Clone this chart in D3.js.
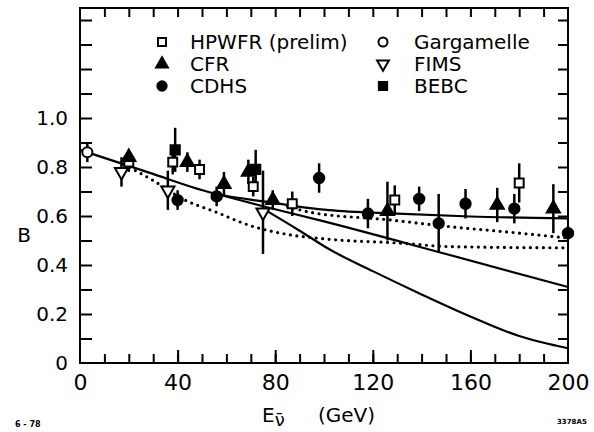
<!DOCTYPE html>
<html>
<head>
<meta charset="utf-8">
<script src="https://cdn.jsdelivr.net/npm/d3@7"></script>
<style>
  body { margin: 0; background: #fff; }
  svg { font-family: "DejaVu Sans", sans-serif; }
</style>
</head>
<body>
<div id="chart"></div>
<script>
const FRAME_WIDTH = 594;
const FRAME_HEIGHT = 432;
const MARGINS = {left: 80, right: 26, top: 8, bottom: 69};
const VIS_WIDTH = FRAME_WIDTH - MARGINS.left - MARGINS.right;
const VIS_HEIGHT = FRAME_HEIGHT - MARGINS.top - MARGINS.bottom;

// data (E in GeV, B)
const gargE = [3];
const gargB = [0.86];
const gargErr = [0.04];

const hpwfrE = [20, 38, 49, 71, 87, 129, 180];
const hpwfrB = [0.82, 0.82, 0.79, 0.72, 0.65, 0.665, 0.735];
const hpwfrErr = [0.04, 0.05, 0.04, 0.04, 0.05, 0.06, 0.08];

const cfrE = [20, 44, 59, 69, 79, 126, 171, 194];
const cfrB = [0.84, 0.82, 0.73, 0.78, 0.665, 0.62, 0.645, 0.63];
const cfrErr = [0.03, 0.04, 0.05, 0.05, 0.04, 0.12, 0.07, 0.1];

const cdhsE = [40, 56, 98, 118, 139, 147, 158, 178, 200];
const cdhsB = [0.665, 0.68, 0.755, 0.61, 0.67, 0.57, 0.65, 0.63, 0.53];
const cdhsErr = [0.04, 0.04, 0.06, 0.06, 0.05, 0.12, 0.06, 0.06, 0.03];

const fimsE = [17, 36, 75];
const fimsB = [0.78, 0.705, 0.615];
const fimsErr = [0.06, 0.08, 0.17];

const bebcE = [39, 72];
const bebcB = [0.87, 0.79];
const bebcErr = [0.09, 0.08];

// theory curves
const solidAE = [0, 28, 56, 75, 102, 130, 160, 200];
const solidAB = [0.87, 0.778, 0.69, 0.66, 0.624, 0.61, 0.598, 0.59];
const solidBE = [56, 75, 100, 150, 200];
const solidBB = [0.69, 0.64, 0.578, 0.445, 0.31];
const solidCE = [75, 90, 102, 120, 140, 160, 180, 200];
const solidCB = [0.63, 0.54, 0.465, 0.375, 0.28, 0.19, 0.11, 0.06];
const dotAE = [18, 30, 42, 56, 70, 85, 102, 130, 152, 200];
const dotAB = [0.81, 0.745, 0.67, 0.615, 0.56, 0.525, 0.505, 0.49, 0.475, 0.47];
const dotBE = [85, 94, 127, 152, 175, 200];
const dotBB = [0.64, 0.616, 0.584, 0.556, 0.535, 0.51];

const xTicks = [0, 40, 80, 120, 160, 200];
const yTicks = [0, 0.2, 0.4, 0.6, 0.8, 1.0];
const yTickLabels = ["0", "0.2", "0.4", "0.6", "0.8", "1.0"];

const SVG = d3.select("#chart")
  .append("svg")
    .attr("width", FRAME_WIDTH)
    .attr("height", FRAME_HEIGHT);

const X_SCALE = d3.scaleLinear().domain([0, 200]).range([MARGINS.left, MARGINS.left + VIS_WIDTH]);
const Y_SCALE = d3.scaleLinear().domain([0, 1.449]).range([MARGINS.top + VIS_HEIGHT, MARGINS.top]);

// frame
SVG.append("rect")
  .attr("x", X_SCALE(0)).attr("y", Y_SCALE(1.449))
  .attr("width", VIS_WIDTH).attr("height", VIS_HEIGHT)
  .attr("fill", "none").attr("stroke", "#000").attr("stroke-width", 2);

// inward ticks on all four sides
const minorX = d3.range(10, 200, 10);
const minorY = d3.range(1, 15).map(i => i / 10);
SVG.append("g")
  .attr("transform", "translate(0," + Y_SCALE(0) + ")")
  .call(d3.axisTop(X_SCALE).tickValues(minorX).tickSize(9).tickFormat(""))
  .call(g => g.select(".domain").remove());
SVG.append("g")
  .attr("transform", "translate(0," + Y_SCALE(0) + ")")
  .call(d3.axisTop(X_SCALE).tickValues([40, 80, 120, 160]).tickSize(13).tickFormat(""))
  .call(g => g.select(".domain").remove());
SVG.append("g")
  .attr("transform", "translate(0," + Y_SCALE(1.449) + ")")
  .call(d3.axisBottom(X_SCALE).tickValues(minorX).tickSize(9).tickFormat(""))
  .call(g => g.select(".domain").remove());
SVG.append("g")
  .attr("transform", "translate(" + X_SCALE(0) + ",0)")
  .call(d3.axisRight(Y_SCALE).tickValues(minorY).tickSize(12).tickFormat(""))
  .call(g => g.select(".domain").remove());
SVG.append("g")
  .attr("transform", "translate(" + X_SCALE(200) + ",0)")
  .call(d3.axisLeft(Y_SCALE).tickValues(minorY).tickSize(10).tickFormat(""))
  .call(g => g.select(".domain").remove());
SVG.selectAll(".tick line").attr("stroke", "#000").attr("stroke-width", 2);

// tick labels
SVG.append("g")
  .attr("transform", "translate(0," + Y_SCALE(0) + ")")
  .call(d3.axisBottom(X_SCALE).tickValues(xTicks).tickSize(0).tickPadding(11))
  .call(g => g.select(".domain").remove())
  .selectAll("text")
    .attr("font-size", "22px").attr("font-family", "DejaVu Sans").attr("fill", "#000");

SVG.append("g")
  .attr("transform", "translate(" + (X_SCALE(0) - 2) + ",0)")
  .call(d3.axisLeft(Y_SCALE).tickValues(yTicks).tickSize(0).tickPadding(10)
    .tickFormat((d, i) => yTickLabels[i]))
  .call(g => g.select(".domain").remove())
  .selectAll("text")
    .attr("font-size", "20px").attr("font-family", "DejaVu Sans").attr("fill", "#000");

// axis titles
SVG.append("text")
  .attr("x", 24).attr("y", 242)
  .attr("text-anchor", "middle")
  .attr("font-size", "20px")
  .text("B");

const XT = SVG.append("text")
  .attr("x", 262).attr("y", 422)
  .attr("font-size", "20px");
XT.append("tspan").text("E");
XT.append("tspan").attr("dy", 4).attr("font-size", "18px").text("\u03BD\u0304");
XT.append("tspan").attr("x", 318).attr("dy", -4).text("(GeV)");

SVG.append("text")
  .attr("x", 15).attr("y", 427)
  .attr("font-size", "8px").attr("font-weight", "bold")
  .text("6 - 78");
SVG.append("text")
  .attr("x", 557).attr("y", 424)
  .attr("font-size", "7px").attr("font-weight", "bold")
  .text("3378A5");

// curves
const line = d3.line()
  .x(d => X_SCALE(d[0]))
  .y(d => Y_SCALE(d[1]))
  .curve(d3.curveMonotoneX);

function drawCurve(es, bs, dotted) {
  const path = SVG.append("path")
    .datum(es.map((e, i) => [e, bs[i]]))
    .attr("d", line)
    .attr("fill", "none")
    .attr("stroke", "#000");
  if (dotted) {
    path.attr("stroke-width", 3.2)
      .attr("stroke-linecap", "round")
      .attr("stroke-dasharray", "0 6.5");
  } else {
    path.attr("stroke-width", 2.2);
  }
}
drawCurve(solidAE, solidAB, false);
drawCurve(solidBE, solidBB, false);
drawCurve(solidCE, solidCB, false);
drawCurve(dotAE, dotAB, true);
drawCurve(dotBE, dotBB, true);

// error bars
function drawErr(es, bs, errs) {
  SVG.append("g").selectAll("line")
    .data(es.map((e, i) => ({e: e, b: bs[i], err: errs[i]})))
    .enter()
    .append("line")
      .attr("x1", d => X_SCALE(d.e))
      .attr("x2", d => X_SCALE(d.e))
      .attr("y1", d => Y_SCALE(d.b - d.err))
      .attr("y2", d => Y_SCALE(d.b + d.err))
      .attr("stroke", "#000")
      .attr("stroke-width", 2.5);
}
[[gargE, gargB, gargErr], [hpwfrE, hpwfrB, hpwfrErr], [cfrE, cfrB, cfrErr],
 [cdhsE, cdhsB, cdhsErr], [fimsE, fimsB, fimsErr], [bebcE, bebcB, bebcErr]]
  .forEach(s => drawErr(s[0], s[1], s[2]));

// markers
const SYMBOLS = {
  square: {type: d3.symbolSquare, size: 80, fill: "#fff"},
  circleOpen: {type: d3.symbolCircle, size: 80, fill: "#fff"},
  triangle: {type: d3.symbolTriangle, size: 75, fill: "#000"},
  triangleDown: {type: d3.symbolTriangle, size: 75, fill: "#fff", rot: 180},
  circle: {type: d3.symbolCircle, size: 85, fill: "#000"},
  squareFilled: {type: d3.symbolSquare, size: 85, fill: "#000"}
};

function drawMarks(es, bs, key) {
  const s = SYMBOLS[key];
  SVG.append("g").selectAll("path")
    .data(es.map((e, i) => [e, bs[i]]))
    .enter()
    .append("path")
      .attr("d", d3.symbol().type(s.type).size(s.size))
      .attr("transform", d => "translate(" + X_SCALE(d[0]) + "," + Y_SCALE(d[1]) + ")" +
        (s.rot ? " rotate(" + s.rot + ")" : ""))
      .attr("fill", s.fill)
      .attr("stroke", "#000")
      .attr("stroke-width", 2);
}
drawMarks(gargE, gargB, "circleOpen");
drawMarks(fimsE, fimsB, "triangleDown");
drawMarks(hpwfrE, hpwfrB, "square");
drawMarks(cfrE, cfrB, "triangle");
drawMarks(cdhsE, cdhsB, "circle");
drawMarks(bebcE, bebcB, "squareFilled");

// legend
const LEGEND = [
  {label: "HPWFR (prelim)", key: "square", x: 162, y: 42},
  {label: "CFR", key: "triangle", x: 162, y: 64},
  {label: "CDHS", key: "circle", x: 162, y: 86},
  {label: "Gargamelle", key: "circleOpen", x: 383, y: 42},
  {label: "FIMS", key: "triangleDown", x: 383, y: 64},
  {label: "BEBC", key: "squareFilled", x: 383, y: 86}
];
const LG = SVG.append("g").selectAll("g")
  .data(LEGEND)
  .enter()
  .append("g")
    .attr("transform", d => "translate(" + d.x + "," + d.y + ")");
LG.append("path")
  .attr("d", d => d3.symbol().type(SYMBOLS[d.key].type).size(SYMBOLS[d.key].size * 0.8)())
  .attr("transform", d => SYMBOLS[d.key].rot ? "rotate(180)" : null)
  .attr("fill", d => SYMBOLS[d.key].fill)
  .attr("stroke", "#000")
  .attr("stroke-width", 2);
LG.append("text")
  .attr("x", d => d.x < 300 ? 28 : 31)
  .attr("y", 7)
  .attr("font-size", "20px")
  .text(d => d.label);
</script>
</body>
</html>
